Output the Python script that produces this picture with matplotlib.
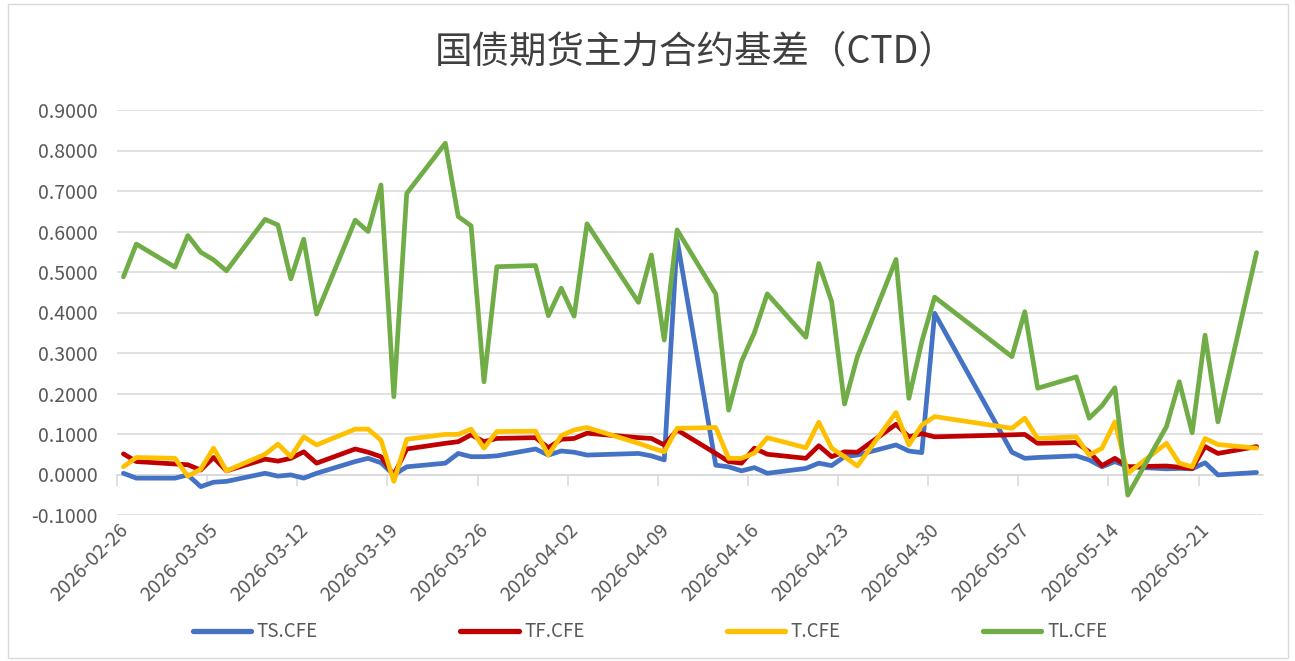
import matplotlib
matplotlib.use("Agg")
import matplotlib.pyplot as plt
import matplotlib.transforms as mtransforms
from matplotlib.patches import Rectangle
from matplotlib.lines import Line2D
import numpy as np
import pandas as pd

plt.rcParams['font.family'] = ['Noto Sans CJK SC', 'DejaVu Sans']

dates = [
    "2026-02-26", "2026-02-27",
    "2026-03-02", "2026-03-03", "2026-03-04", "2026-03-05", "2026-03-06",
    "2026-03-09", "2026-03-10", "2026-03-11", "2026-03-12", "2026-03-13",
    "2026-03-16", "2026-03-17", "2026-03-18", "2026-03-19", "2026-03-20",
    "2026-03-23", "2026-03-24", "2026-03-25", "2026-03-26", "2026-03-27",
    "2026-03-30", "2026-03-31", "2026-04-01", "2026-04-02", "2026-04-03",
    "2026-04-07", "2026-04-08", "2026-04-09", "2026-04-10",
    "2026-04-13", "2026-04-14", "2026-04-15", "2026-04-16", "2026-04-17",
    "2026-04-20", "2026-04-21", "2026-04-22", "2026-04-23", "2026-04-24",
    "2026-04-27", "2026-04-28", "2026-04-29", "2026-04-30",
    "2026-05-06", "2026-05-07", "2026-05-08",
    "2026-05-11", "2026-05-12", "2026-05-13", "2026-05-14", "2026-05-15",
    "2026-05-18", "2026-05-19", "2026-05-20", "2026-05-21", "2026-05-22",
    "2026-05-25",
]

ts_cfe = [
    0.003, -0.009,
    -0.009, -0.001, -0.030, -0.019, -0.017,
    0.003, -0.004, -0.001, -0.009, 0.003,
    0.032, 0.040, 0.029, -0.001, 0.019,
    0.028, 0.052, 0.044, 0.044, 0.046,
    0.063, 0.048, 0.058, 0.055, 0.048,
    0.052, 0.046, 0.036, 0.579,
    0.023, 0.019, 0.009, 0.017, 0.003,
    0.015, 0.028, 0.022, 0.044, 0.048,
    0.073, 0.058, 0.054, 0.398,
    0.055, 0.040, 0.042,
    0.046, 0.036, 0.019, 0.032, 0.019,
    0.014, 0.015, 0.014, 0.029, -0.001,
    0.005,
]

tf_cfe = [
    0.051, 0.032,
    0.026, 0.024, 0.011, 0.042, 0.009,
    0.038, 0.033, 0.040, 0.056, 0.028,
    0.063, 0.055, 0.044, -0.001, 0.063,
    0.077, 0.081, 0.098, 0.081, 0.089,
    0.091, 0.066, 0.087, 0.089, 0.102,
    0.091, 0.089, 0.073, 0.110,
    0.052, 0.032, 0.028, 0.065, 0.050,
    0.040, 0.071, 0.044, 0.056, 0.055,
    0.124, 0.093, 0.101, 0.093,
    0.098, 0.099, 0.077,
    0.079, 0.056, 0.022, 0.040, 0.019,
    0.021, 0.018, 0.015, 0.069, 0.052,
    0.069,
]

t_cfe = [
    0.019, 0.042,
    0.040, -0.004, 0.013, 0.065, 0.009,
    0.050, 0.075, 0.044, 0.093, 0.073,
    0.112, 0.112, 0.085, -0.017, 0.087,
    0.099, 0.099, 0.112, 0.065, 0.106,
    0.107, 0.048, 0.096, 0.110, 0.116,
    0.077, 0.066, 0.056, 0.114,
    0.116, 0.040, 0.040, 0.053, 0.091,
    0.066, 0.129, 0.065, 0.044, 0.021,
    0.153, 0.073, 0.122, 0.143,
    0.114, 0.139, 0.089,
    0.093, 0.048, 0.065, 0.130, 0.003,
    0.077, 0.028, 0.019, 0.089, 0.074,
    0.065,
]

tl_cfe = [
    0.488, 0.569,
    0.512, 0.590, 0.549, 0.530, 0.503,
    0.630, 0.616, 0.483, 0.581, 0.396,
    0.628, 0.600, 0.715, 0.192, 0.694,
    0.818, 0.637, 0.614, 0.229, 0.513,
    0.516, 0.392, 0.460, 0.391, 0.619,
    0.425, 0.542, 0.332, 0.604,
    0.446, 0.159, 0.279, 0.350, 0.446,
    0.339, 0.521, 0.427, 0.174, 0.291,
    0.531, 0.188, 0.328, 0.438,
    0.291, 0.402, 0.213,
    0.241, 0.139, 0.170, 0.214, -0.051,
    0.118, 0.229, 0.103, 0.344, 0.130,
    0.548,
]

series_names = ["TS.CFE", "TF.CFE", "T.CFE", "TL.CFE"]
series_colors = ["#4472C4", "#C00000", "#FFC000", "#70AD47"]

tick_labels = ["2026-02-26", "2026-03-05", "2026-03-12", "2026-03-19",
               "2026-03-26", "2026-04-02", "2026-04-09", "2026-04-16",
               "2026-04-23", "2026-04-30", "2026-05-07", "2026-05-14",
               "2026-05-21"]
y_ticks = [-0.1, 0.0, 0.1, 0.2, 0.3, 0.4, 0.5, 0.6, 0.7, 0.8, 0.9]

title = "国债期货主力合约基差（CTD）"

# ---------------------------------------------------------------
x = pd.to_datetime(dates)
half = pd.Timedelta(hours=12)
xt = pd.to_datetime(tick_labels) - half

fig = plt.figure(figsize=(12.95, 6.61), dpi=100)
fig.patch.set_facecolor("white")
ax = fig.add_axes([117 / 1295, 146 / 661, 1146 / 1295, 405 / 661])

grid_c = "#D9D9D9"
text_c = "#595959"

for vals, name, col in zip([ts_cfe, tf_cfe, t_cfe, tl_cfe], series_names, series_colors):
    ax.plot(x, vals, color=col, lw=3.4, solid_joinstyle="round",
            solid_capstyle="round", label=name, zorder=3)

ax.set_xlim(x[0] - half, x[-1] + half)
ax.set_ylim(-0.1, 0.9)
ax.set_yticks(y_ticks)
ax.set_yticklabels([f"{v:.4f}" for v in y_ticks])
ax.grid(axis="y", color=grid_c, lw=1.1, zorder=0)
ax.set_axisbelow(True)
for s in ax.spines.values():
    s.set_visible(False)
ax.tick_params(axis="y", length=0, pad=14, labelsize=14, labelcolor=text_c)

ax.set_xticks(xt)
ax.set_xticklabels(tick_labels, rotation=45, ha="right", va="center",
                   rotation_mode="anchor")
ax.tick_params(axis="x", length=0, pad=9, labelsize=14, labelcolor=text_c)
off = mtransforms.ScaledTranslation(0.08, 0, fig.dpi_scale_trans)
for lab in ax.get_xticklabels():
    lab.set_transform(lab.get_transform() + off)

# horizontal axis line crossing at zero, with outward tick marks
sec = ax.secondary_xaxis(0.1)
sec.set_xticks(xt)
sec.tick_params(axis="x", length=8, width=1.1, color=grid_c, labelbottom=False,
                direction="out")
sec.spines["bottom"].set_color(grid_c)
sec.spines["bottom"].set_linewidth(1.1)
for k in ["top", "left", "right"]:
    sec.spines[k].set_visible(False)

fig.text(0.537, 0.922, title, ha="center", va="center", fontsize=27,
         color="#404040", fontweight="medium")

handles = [Line2D([], [], color=c, lw=3.8, solid_capstyle="round") for c in series_colors]
fig.legend(handles, series_names, loc="center", bbox_to_anchor=(0.502, 0.044),
           ncol=4, frameon=False, fontsize=13.5, handlelength=3.1, handletextpad=0.3,
           columnspacing=7.6, labelcolor=text_c)

fig.patches.append(Rectangle((8 / 1295, 3 / 661), 1280 / 1295, 654 / 661,
                             transform=fig.transFigure, fill=False,
                             edgecolor=grid_c, lw=1.0))

fig.savefig("out.png", dpi=100, facecolor="white")
